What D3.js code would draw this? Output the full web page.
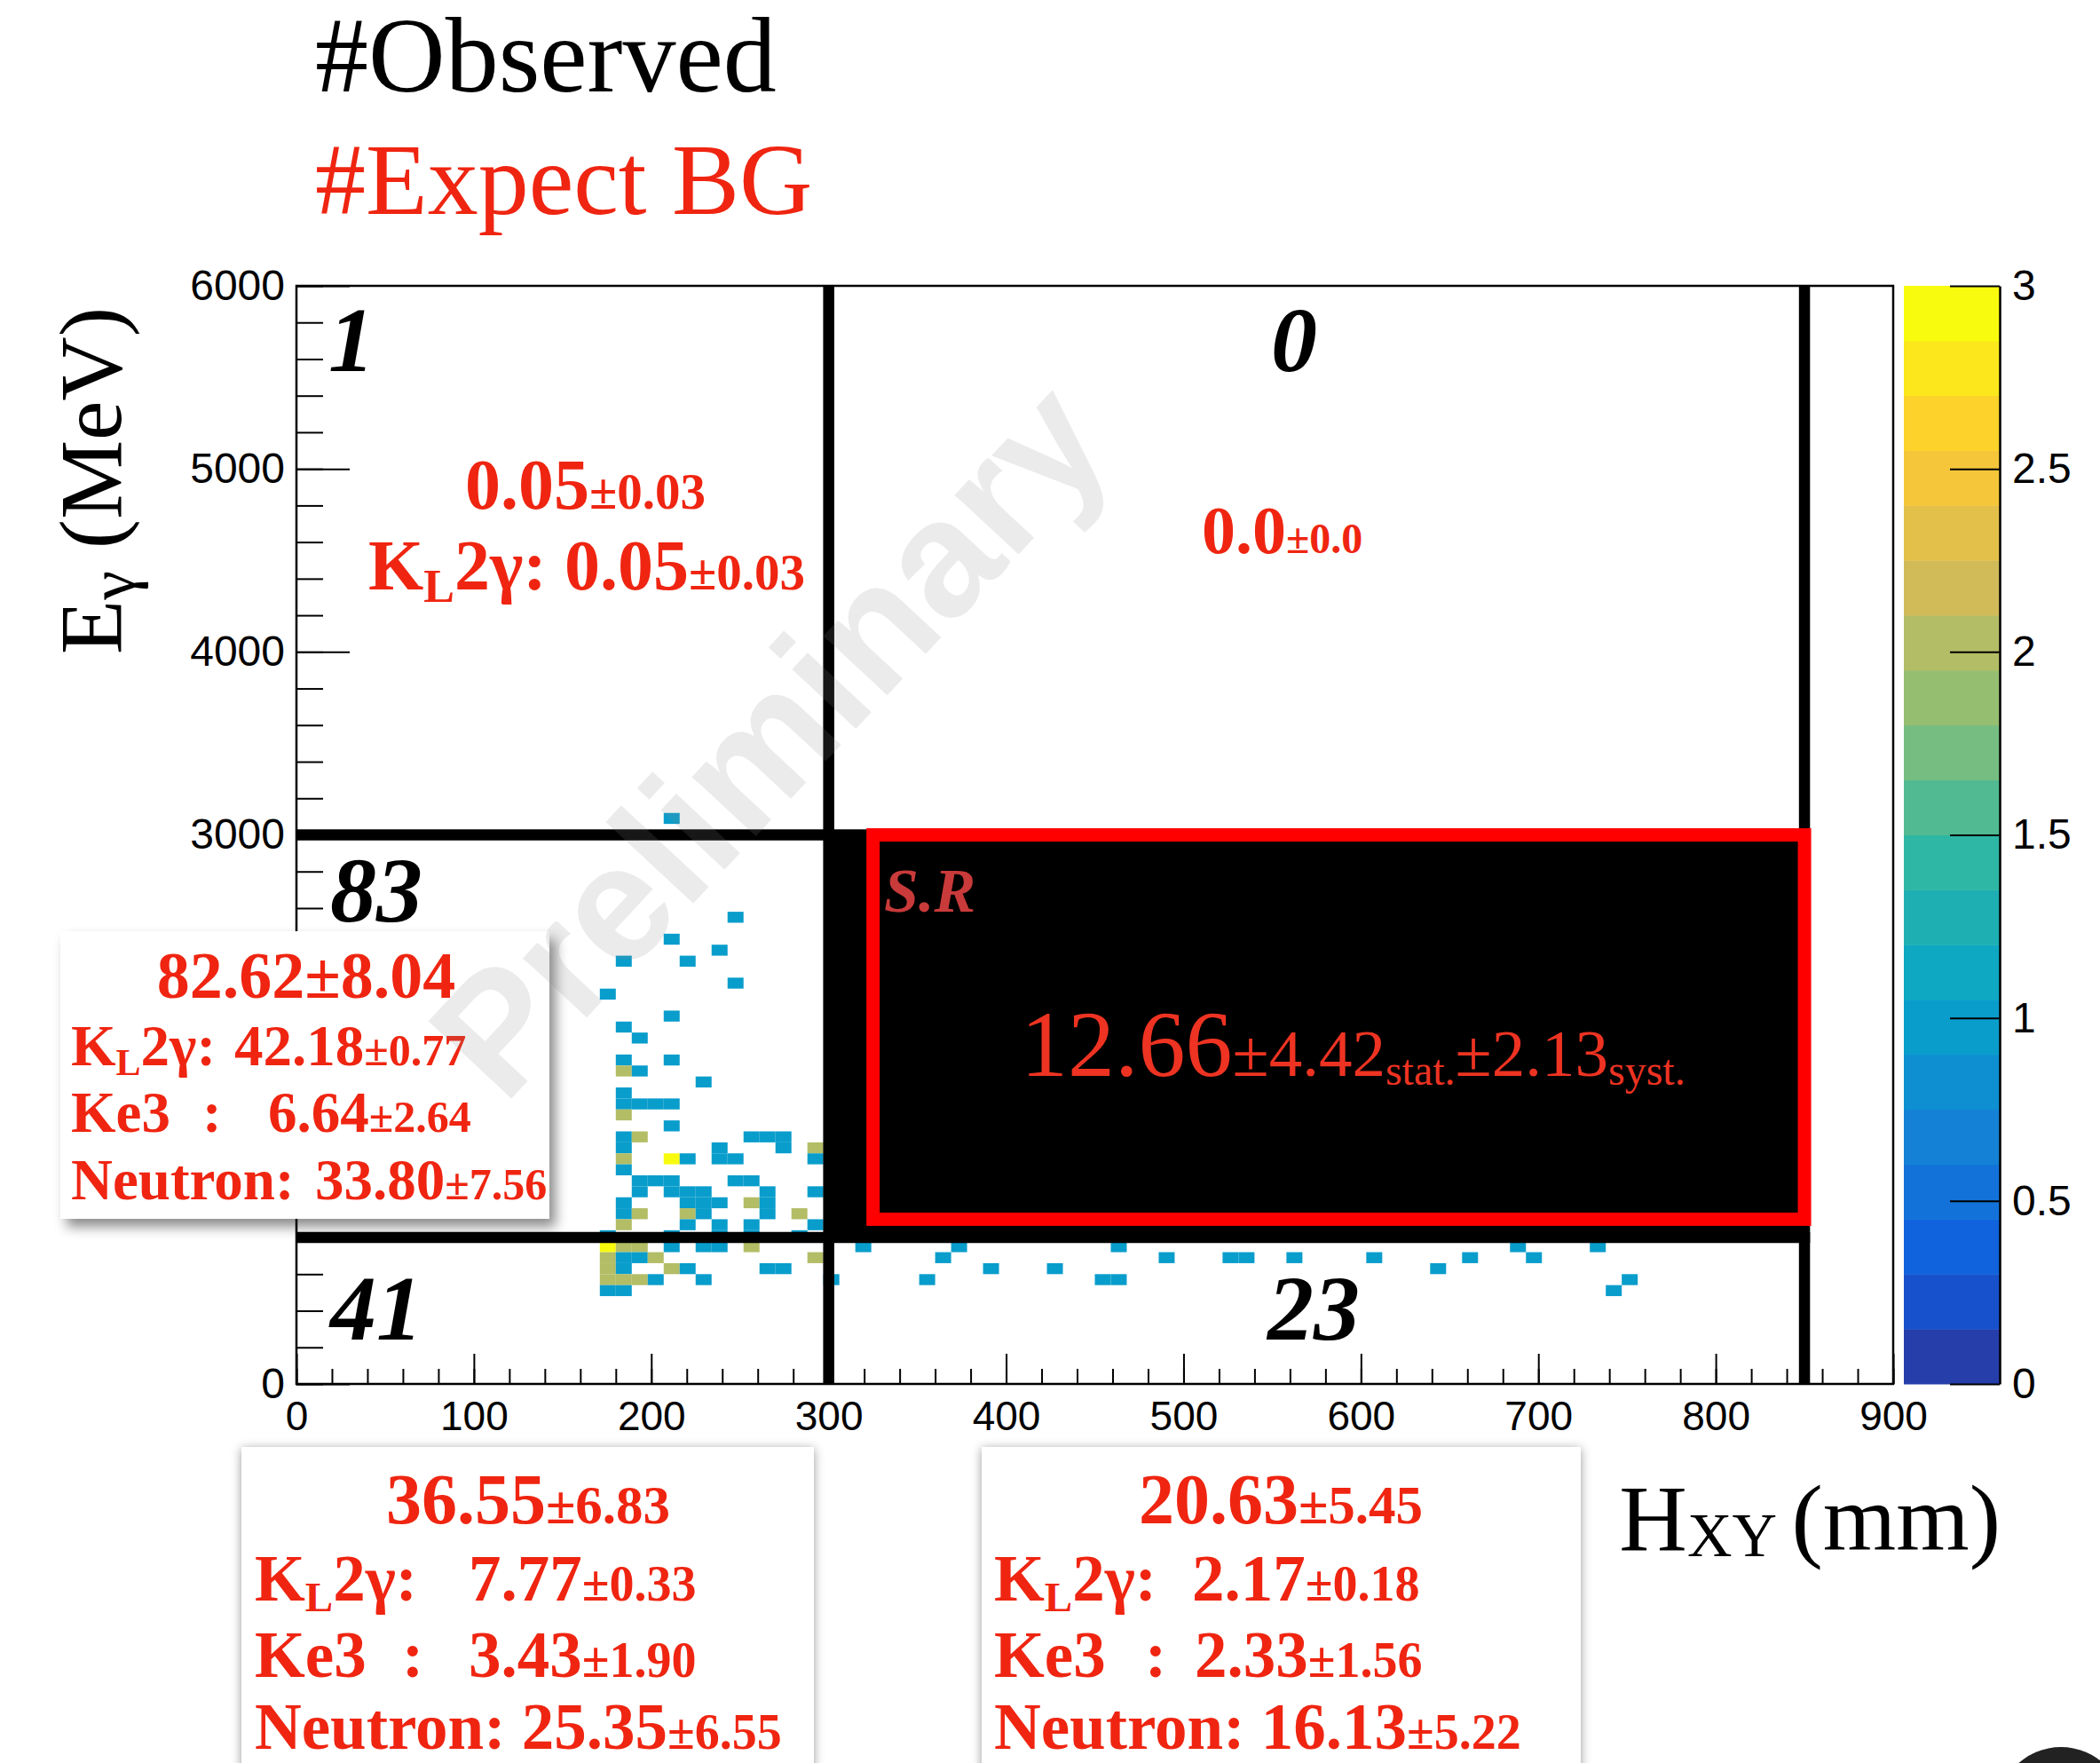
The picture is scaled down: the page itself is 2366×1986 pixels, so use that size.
<!DOCTYPE html>
<html><head><meta charset="utf-8">
<script src="https://cdn.jsdelivr.net/npm/d3@7"></script>
<style>body{margin:0;background:#fff;overflow:hidden}text{white-space:pre}</style>
</head><body>
<svg id="c" width="2366" height="1986" xmlns="http://www.w3.org/2000/svg"></svg>
<script>
// ---------------- data ----------------
const xDomain = [0, 900];          // H_XY (mm)
const yDomain = [0, 6000];         // E_gamma (MeV)
const zDomain = [0, 3];            // entries per bin
const binW = 9, binH = 60;
// lower-left corner of each filled bin and its content
const cellHxy = [207,243,207,234,180,216,243,171,207,180,189,180,207,180,189,225,180,
  180,189,198,207, 180, 207,
  180,189,252,261,270,
  180,234,270,288,
  180,207,216,234,243,288,
  180,
  189,198,207,243,252,
  189,207,216,225,261,288,
  180,216,225,234,252,261,
  180,189,216,225,261,279,
  180,216,234,252,288,
  171,207,234,252,279,
  171,180,189,207,225,234,252,315,369,459,684,729,
  171,180,189,198,288,360,486,522,531,558,603,657,693,
  171,180,207,216,261,270,387,423,639,
  171,180,189,198,225,297,351,450,459,747,
  171,180,738];
const cellEg = [3060,2520,2400,2340,2280,2280,2160,2100,1980,1920,1860,1740,1740,1680,1680,1620,1560,
  1500,1500,1500,1500, 1440, 1380,
  1320,1320,1320,1320,1320,
  1260,1260,1260,1260,
  1200,1200,1200,1200,1200,1200,
  1140,
  1080,1080,1080,1080,1080,
  1020,1020,1020,1020,1020,1020,
  960,960,960,960,960,960,
  900,900,900,900,900,900,
  840,840,840,840,840,
  780,780,780,780,780,
  720,720,720,720,720,720,720,720,720,720,720,720,
  660,660,660,660,660,660,660,660,660,660,660,660,660,
  600,600,600,600,600,600,600,600,600,
  540,540,540,540,540,540,540,540,540,540,
  480,480,480];
const cellCount = [1,1,1,1,1,1,1,1,1,1,1,1,1,2,1,1,1,
  1,1,1,1, 2, 1,
  1,2,1,1,1,
  1,1,1,2,
  2,3,1,1,1,1,
  1,
  1,1,1,1,1,
  1,1,1,1,1,1,
  1,1,1,1,2,1,
  1,2,2,1,1,2,
  2,1,1,1,1,
  1,1,1,1,1,
  3,2,2,1,1,1,2,1,1,1,1,1,
  2,1,1,2,2,1,1,1,1,1,1,1,1,
  2,1,2,1,1,1,1,1,1,
  2,2,2,1,1,1,1,1,1,1,
  1,1,1];
const xTickVals = [0,100,200,300,400,500,600,700,800,900];
const yTickVals = [0,1000,2000,3000,4000,5000,6000];
const zTickVals = [0,0.5,1,1.5,2,2.5,3];
const cutX = [300, 850];           // region boundaries in H_XY
const cutY = [800, 3000];          // region boundaries in E_gamma
const signalBox = [325, 900, 850, 3000];   // x0, y0, x1, y1
const regionObserved = ["1", "0", "83", "41", "23"];
// 20-level palette of the z axis
const palette = ["#263eaa","#1752cc","#1063dc","#1272d9","#1481d6","#0e8fd1","#099dcc","#0ea8c2",
  "#1eafb3","#2eb7a4","#52ba92","#75bd80","#96be71","#b3bd65","#d1bb59","#e3c04a","#f5c63a",
  "#fdd32b","#fbe71c","#f9fb0e"];

// ---------------- drawing ----------------
const svg = d3.select("#c");
const F = {l:334, r:2133, t:322, b:1559};
const x = d3.scaleLinear().domain(xDomain).range([F.l, F.r]);
const y = d3.scaleLinear().domain(yDomain).range([F.b, F.t]);
const z = d3.scaleQuantize().domain(zDomain).range(palette);
const RED = "#ef2511";
const SERIF = "'Liberation Serif','Times New Roman',Times,serif";
const SANS = "'Liberation Sans',Arial,Helvetica,sans-serif";

const defs = svg.append("defs");
defs.append("clipPath").attr("id","clipF").append("rect")
  .attr("x",F.l).attr("y",F.t).attr("width",F.r-F.l).attr("height",F.b-F.t);
const f1 = defs.append("filter").attr("id","sh1").attr("x","-20%").attr("y","-20%").attr("width","140%").attr("height","140%");
f1.append("feDropShadow").attr("dx",7).attr("dy",9).attr("stdDeviation",7).attr("flood-color","#000").attr("flood-opacity",0.45);
const f2 = defs.append("filter").attr("id","sh2").attr("x","-20%").attr("y","-20%").attr("width","140%").attr("height","140%");
f2.append("feDropShadow").attr("dx",0).attr("dy",2).attr("stdDeviation",6).attr("flood-color","#000").attr("flood-opacity",0.4);

// titles
svg.append("text").attr("x",355).attr("y",103).attr("font-family",SERIF).attr("font-size",120)
  .attr("fill","#000").text("#Observed");
svg.append("text").attr("x",355).attr("y",241).attr("font-family",SERIF).attr("font-size",114)
  .attr("fill",RED).text("#Expect BG");

// cells
const idx = d3.range(cellHxy.length);
svg.append("g").attr("clip-path","url(#clipF)").selectAll("rect").data(idx).join("rect")
  .attr("x", i => x(cellHxy[i]))
  .attr("y", i => y(cellEg[i] + binH))
  .attr("width", i => x(cellHxy[i] + binW) - x(cellHxy[i]))
  .attr("height", i => y(cellEg[i]) - y(cellEg[i] + binH))
  .attr("fill", i => z(cellCount[i]));

// signal region black fill
svg.append("rect").attr("x", x(cutX[0])).attr("y", y(cutY[1]))
  .attr("width", x(cutX[1]) - x(cutX[0])).attr("height", y(cutY[0]) - y(cutY[1])).attr("fill","#000");
// thick boundary lines
const LW = 12.5;
cutX.forEach(v => svg.append("line").attr("x1",x(v)).attr("x2",x(v)).attr("y1",y(yDomain[0])).attr("y2",y(yDomain[1]))
  .attr("stroke","#000").attr("stroke-width",LW));
cutY.forEach(v => svg.append("line").attr("x1",x(xDomain[0])).attr("x2",x(cutX[1])+LW/2).attr("y1",y(v)).attr("y2",y(v))
  .attr("stroke","#000").attr("stroke-width",LW));
// red signal box
svg.append("rect").attr("x", x(signalBox[0])).attr("y", y(signalBox[3]))
  .attr("width", x(signalBox[2]) - x(signalBox[0])).attr("height", y(signalBox[1]) - y(signalBox[3]))
  .attr("fill","none").attr("stroke","#ff0000").attr("stroke-width",15);

// frame
svg.append("rect").attr("x",F.l).attr("y",F.t).attr("width",F.r-F.l).attr("height",F.b-F.t)
  .attr("fill","none").attr("stroke","#000").attr("stroke-width",2.5);

function styleAxis(g, fs){
  g.select(".domain").remove();
  g.selectAll("line").attr("stroke","#000").attr("stroke-width",2);
  g.selectAll("text").attr("font-family",SANS).attr("font-size",fs).attr("fill","#000");
}
// x axis
const gx1 = svg.append("g").attr("transform",`translate(0,${F.b})`)
  .call(d3.axisBottom(x).tickValues(x.ticks(45)).tickSize(-17).tickSizeOuter(0).tickFormat(""));
styleAxis(gx1, 46);
const gx2 = svg.append("g").attr("transform",`translate(0,${F.b})`)
  .call(d3.axisBottom(x).tickValues(xTickVals).tickSize(-34).tickSizeOuter(0).tickPadding(19).tickFormat(d3.format("d")));
styleAxis(gx2, 46);
gx2.selectAll("text").attr("dy","0.71em");
// y axis
const gy1 = svg.append("g").attr("transform",`translate(${F.l},0)`)
  .call(d3.axisLeft(y).tickValues(y.ticks(30)).tickSize(-30).tickSizeOuter(0).tickFormat(""));
styleAxis(gy1, 48);
const gy2 = svg.append("g").attr("transform",`translate(${F.l},0)`)
  .call(d3.axisLeft(y).tickValues(yTickVals).tickSize(-60).tickSizeOuter(0).tickPadding(13).tickFormat(d3.format("d")));
styleAxis(gy2, 48);

// axis titles
const yt = svg.append("text").attr("transform","translate(136,346) rotate(-90)").attr("text-anchor","end")
  .attr("font-family",SERIF).attr("font-size",100).attr("fill","#000");
yt.append("tspan").text("E");
yt.append("tspan").attr("font-size",74).attr("dy",15).text("γ");
yt.append("tspan").attr("dy",-15).text(" (MeV)");
const xt = svg.append("text").attr("x",2254).attr("y",1746).attr("text-anchor","end")
  .attr("font-family",SERIF).attr("font-size",106).attr("fill","#000");
xt.append("tspan").text("H");
xt.append("tspan").attr("font-size",70).attr("dy",7).text("XY");
xt.append("tspan").attr("dy",-7).attr("dx",-10).text(" (mm)");

// colour bar
const zy = d3.scaleLinear().domain(zDomain).range([F.b, F.t]);
const CB = {x:2145, w:108};
svg.append("g").selectAll("rect").data(palette).join("rect")
  .attr("x",CB.x).attr("width",CB.w)
  .attr("y", c => zy(z.invertExtent(c)[1]))
  .attr("height", c => zy(z.invertExtent(c)[0]) - zy(z.invertExtent(c)[1]) + 0.5)
  .attr("fill", c => c);
const gz = svg.append("g").attr("transform",`translate(${CB.x+CB.w},0)`)
  .call(d3.axisRight(zy).tickValues(zTickVals).tickSize(-56).tickSizeOuter(0).tickPadding(14).tickFormat(d3.format("~g")));
gz.select(".domain").attr("stroke","#000").attr("stroke-width",2.5);
gz.selectAll("line").attr("stroke","#000").attr("stroke-width",2);
gz.selectAll("text").attr("font-family",SANS).attr("font-size",48).attr("fill","#000");

// rich text helper
function rich(xp, yb, segs, o = {}){
  const t = svg.append("text").attr("x",xp).attr("y",yb).attr("font-family",SERIF)
    .attr("font-weight", o.weight || "bold").attr("font-style", o.style || "normal")
    .attr("fill", o.fill || RED).attr("text-anchor", o.anchor || "start").attr("xml:space","preserve");
  segs.forEach(s => {
    const ts = t.append("tspan").attr("font-size", s.s).text(s.t);
    if (s.x != null) ts.attr("x", s.x);
    if (s.dy) ts.attr("dy", s.dy);
  });
  return t;
}
const KL = (B, S, d) => [{t:"K",s:B},{t:"L",s:S,dy:d},{t:"2γ:",s:B,dy:-d}];

// region observed counts
const cnt = {weight:"bold", style:"italic", fill:"#000"};
rich(370, 418, [{t:regionObserved[0], s:104}], cnt);
rich(1432, 418, [{t:regionObserved[1], s:104}], cnt);
rich(372, 1038, [{t:regionObserved[2], s:104}], cnt);
rich(372, 1509, [{t:regionObserved[3], s:104}], cnt);
rich(1428, 1509, [{t:regionObserved[4], s:104}], cnt);

// region expectations
rich(524, 573, [{t:"0.05",s:80},{t:"±0.03",s:57}]);
rich(415, 664, [...KL(80,52,14),{t:" 0.05",s:80},{t:"±0.03",s:57}]);
rich(1354, 623, [{t:"0.0",s:76},{t:"±0.0",s:48}]);

// signal region
rich(996, 1027, [{t:"S.R",s:70}], {weight:"bold", style:"italic", fill:"#c93a3a"});
rich(1150, 1212, [{t:"12.66",s:106},{t:"±4.42",s:75},{t:"stat.",s:48,dy:10},{t:"±2.13",s:75,dy:-10},{t:"syst.",s:48,dy:10}],
  {weight:"normal", fill:"#ee3322"});

// left box
svg.append("rect").attr("x",68).attr("y",1049).attr("width",551).attr("height",324).attr("fill","#fff").attr("filter","url(#sh1)");
rich(345, 1124, [{t:"82.62±8.04",s:74}], {anchor:"middle"});
rich(80, 1200, [...KL(65,42,11),{t:"42.18",s:65,x:264},{t:"±0.77",s:50}]);
rich(80, 1275, [{t:"Ke3",s:65},{t:":",s:65,x:228},{t:"6.64",s:65,x:302},{t:"±2.64",s:50}]);
rich(80, 1351, [{t:"Neutron:",s:65},{t:"33.80",s:65,x:355},{t:"±7.56",s:50}]);

// bottom boxes
svg.append("rect").attr("x",272).attr("y",1630).attr("width",645).attr("height",420).attr("fill","#fff").attr("filter","url(#sh2)");
svg.append("rect").attr("x",1106).attr("y",1630).attr("width",675).attr("height",420).attr("fill","#fff").attr("filter","url(#sh2)");
rich(595, 1716, [{t:"36.55",s:80},{t:"±6.83",s:61}], {anchor:"middle"});
rich(287, 1803, [...KL(73,47,12),{t:"7.77",s:73,x:528},{t:"±0.33",s:56}]);
rich(287, 1889, [{t:"Ke3",s:73},{t:":",s:73,x:453},{t:"3.43",s:73,x:528},{t:"±1.90",s:56}]);
rich(287, 1970, [{t:"Neutron: 25.35",s:73},{t:"±6.55",s:56}]);
rich(1443, 1716, [{t:"20.63",s:80},{t:"±5.45",s:61}], {anchor:"middle"});
rich(1120, 1803, [...KL(73,47,12),{t:"2.17",s:73,x:1343},{t:"±0.18",s:56}]);
rich(1120, 1889, [{t:"Ke3",s:73},{t:":",s:73,x:1290},{t:"2.33",s:73,x:1346},{t:"±1.56",s:56}]);
rich(1120, 1970, [{t:"Neutron: 16.13",s:73},{t:"±5.22",s:56}]);

// corner logo fragment
svg.append("circle").attr("cx",2322).attr("cy",2040).attr("r",72).attr("fill","#222");

// watermark
svg.append("text").attr("transform","translate(866,832) rotate(-47)").attr("text-anchor","middle")
  .attr("dominant-baseline","central").attr("font-family",SANS).attr("font-weight","bold")
  .attr("font-size",186).attr("fill","#888").attr("fill-opacity",0.17).text("Preliminary");
</script>
</body></html>
